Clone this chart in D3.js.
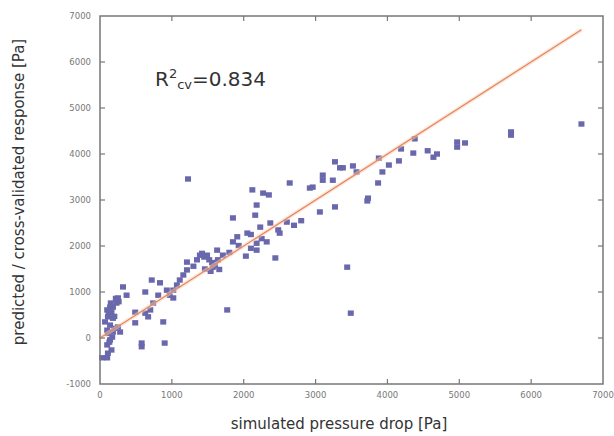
<!DOCTYPE html>
<html>
<head>
    <script src="https://d3js.org/d3.v7.min.js"></script>
    <style>
        body { margin: 0; background: #fff; }
        text { font-family: "DejaVu Sans", sans-serif; }
        .tick-label { font-size: 8.5px; fill: #777; }
        .axis-title { font-size: 15px; fill: #333; }
    </style>
</head>
<body>
    <div id="chart"></div>

    <script>
        // simulated pressure drop [Pa]
        const simulated = [
            1225, 2120, 2180, 2270, 2350, 2640, 2160, 1850, 2230, 2370,
            2050, 1910, 1850, 2180, 2320, 2440, 2030, 2180, 2480, 2500,
            2600, 1770, 1630, 1490, 1390, 1350, 1210, 1300, 1570, 1640,
            1710, 1210, 1160, 1110, 1070, 1020, 970, 930, 1020, 835,
            720, 810, 740, 700, 670, 630, 630, 880, 900, 580,
            580, 490, 490, 320, 370, 250, 230, 180, 140, 100,
            160, 110, 180, 140, 250, 280, 180, 110, 140, 100,
            160, 110, 30, 100, 70, 100,
            2920, 2960, 3100, 3100, 3240, 3270, 3340, 3380, 3520, 3570,
            3730, 3870, 3880, 3930, 4020, 4160, 4190, 4380, 4360, 4560,
            4640, 4690, 4970, 4970, 5080, 5720, 5720, 6700, 3060, 3270,
            3720, 3440, 3490, 1460, 1540, 2100, 2700, 2800,
            1420, 1450, 1520, 1560, 1600, 1660, 1800, 1930, 2250, 2100,
            150, 200, 120, 200, 130, 170, 260, 220
        ];
        // predicted / cross-validated response [Pa]
        const predicted = [
            3457, 3220, 2890, 3150, 3110, 3370, 2670, 2610, 2410, 2500,
            2280, 2200, 2090, 2060, 2090, 1740, 1780, 1910, 2350, 2280,
            2520, 610, 1910, 1800, 1800, 1700, 1650, 1560, 1540, 1700,
            1800, 1480, 1370, 1260, 1150, 1040, 930, 1040, 870, 1200,
            1260, 930, 760, 610, 460, 540, 1000, 350, -110, -110,
            -190, 330, 560, 1110, 930, 870, 760, 670, 670, 610,
            560, 460, 430, 280, 240, 130, 130, 100, -40, -150,
            -260, -330, -430, -430, 350, 170,
            3260, 3280, 3540, 3430, 3430, 3830, 3700, 3700, 3740, 3610,
            3040, 3370, 3910, 3610, 3760, 3850, 4110, 4330, 4020, 4070,
            3930, 4000, 4260, 4150, 4240, 4480, 4410, 4652, 2740, 2850,
            2980, 1540, 540, 1500, 1450, 1950, 2450, 2550,
            1840, 1760, 1700, 1640, 1580, 1490, 1860, 2010, 2160, 2250,
            760, 470, 510, 210, -90, 20, 790, 860
        ];
        // ideal line y = x
        const idealLine = [0, 6700];

        const xTicks = [0, 1000, 2000, 3000, 4000, 5000, 6000, 7000];
        const yTicks = [-1000, 0, 1000, 2000, 3000, 4000, 5000, 6000, 7000];

        const width = 614, height = 436;
        const margin = { top: 16, right: 11, bottom: 52, left: 100 };

        const svg = d3.select("#chart")
            .append("svg")
            .attr("width", width)
            .attr("height", height);

        const x = d3.scaleLinear()
            .domain([0, 7000])
            .range([margin.left, width - margin.right]);

        const y = d3.scaleLinear()
            .domain([-1000, 7000])
            .range([height - margin.bottom, margin.top]);

        // points
        const points = d3.zip(simulated, predicted);
        svg.append("g")
            .selectAll("rect")
            .data(points)
            .join("rect")
            .attr("x", d => x(d[0]) - 3)
            .attr("y", d => y(d[1]) - 2.7)
            .attr("width", 6)
            .attr("height", 5.4)
            .attr("fill", "#6a68ac");

        // ideal line with soft glow
        const lineGen = d3.line().x(d => x(d)).y(d => y(d));
        svg.append("path")
            .attr("d", lineGen(idealLine))
            .attr("fill", "none")
            .attr("stroke", "#f6d2b8")
            .attr("stroke-width", 4)
            .attr("opacity", 0.5);
        svg.append("path")
            .attr("d", lineGen(idealLine))
            .attr("fill", "none")
            .attr("stroke", "#e8845e")
            .attr("stroke-width", 1.2);

        // frame
        const x0 = x(0), x1 = x(7000), y0 = y(-1000), y1 = y(7000);
        svg.append("rect")
            .attr("x", x0).attr("y", y1)
            .attr("width", x1 - x0).attr("height", y0 - y1)
            .attr("fill", "none")
            .attr("stroke", "#777")
            .attr("stroke-width", 1.5);

        // inward ticks on all four sides
        const tickLen = 5;
        const tickG = svg.append("g").attr("stroke", "#777").attr("stroke-width", 1.2);
        xTicks.slice(1, -1).forEach(t => {
            tickG.append("line").attr("x1", x(t)).attr("x2", x(t)).attr("y1", y0).attr("y2", y0 - tickLen);
            tickG.append("line").attr("x1", x(t)).attr("x2", x(t)).attr("y1", y1).attr("y2", y1 + tickLen);
        });
        yTicks.slice(1, -1).forEach(t => {
            tickG.append("line").attr("x1", x0).attr("x2", x0 + tickLen).attr("y1", y(t)).attr("y2", y(t));
            tickG.append("line").attr("x1", x1).attr("x2", x1 - tickLen).attr("y1", y(t)).attr("y2", y(t));
        });

        // tick labels
        svg.append("g")
            .selectAll("text")
            .data(xTicks)
            .join("text")
            .attr("class", "tick-label")
            .attr("x", d => x(d))
            .attr("y", y0 + 14)
            .attr("text-anchor", "middle")
            .text(d => d);

        svg.append("g")
            .selectAll("text")
            .data(yTicks)
            .join("text")
            .attr("class", "tick-label")
            .attr("x", x0 - 9)
            .attr("y", d => y(d) + 3)
            .attr("text-anchor", "end")
            .text(d => d);

        // axis titles
        svg.append("text")
            .attr("class", "axis-title")
            .attr("x", 339)
            .attr("y", 429)
            .attr("text-anchor", "middle")
            .text("simulated pressure drop [Pa]");

        svg.append("text")
            .attr("class", "axis-title")
            .attr("transform", "translate(24,192) rotate(-90)")
            .attr("text-anchor", "middle")
            .text("predicted / cross-validated response [Pa]");

        // R² annotation
        const ann = svg.append("text")
            .attr("x", 155)
            .attr("y", 86)
            .attr("font-family", "Liberation Sans, Arial, sans-serif")
            .attr("font-size", 20)
            .attr("fill", "#333");
        ann.append("tspan").text("R");
        ann.append("tspan").attr("font-size", 13).attr("dy", -8).text("2");
        ann.append("tspan").attr("font-size", 13).attr("dy", 11).text("cv");
        ann.append("tspan").attr("dy", -3).text("=0.834");
    </script>
</body>
</html>
